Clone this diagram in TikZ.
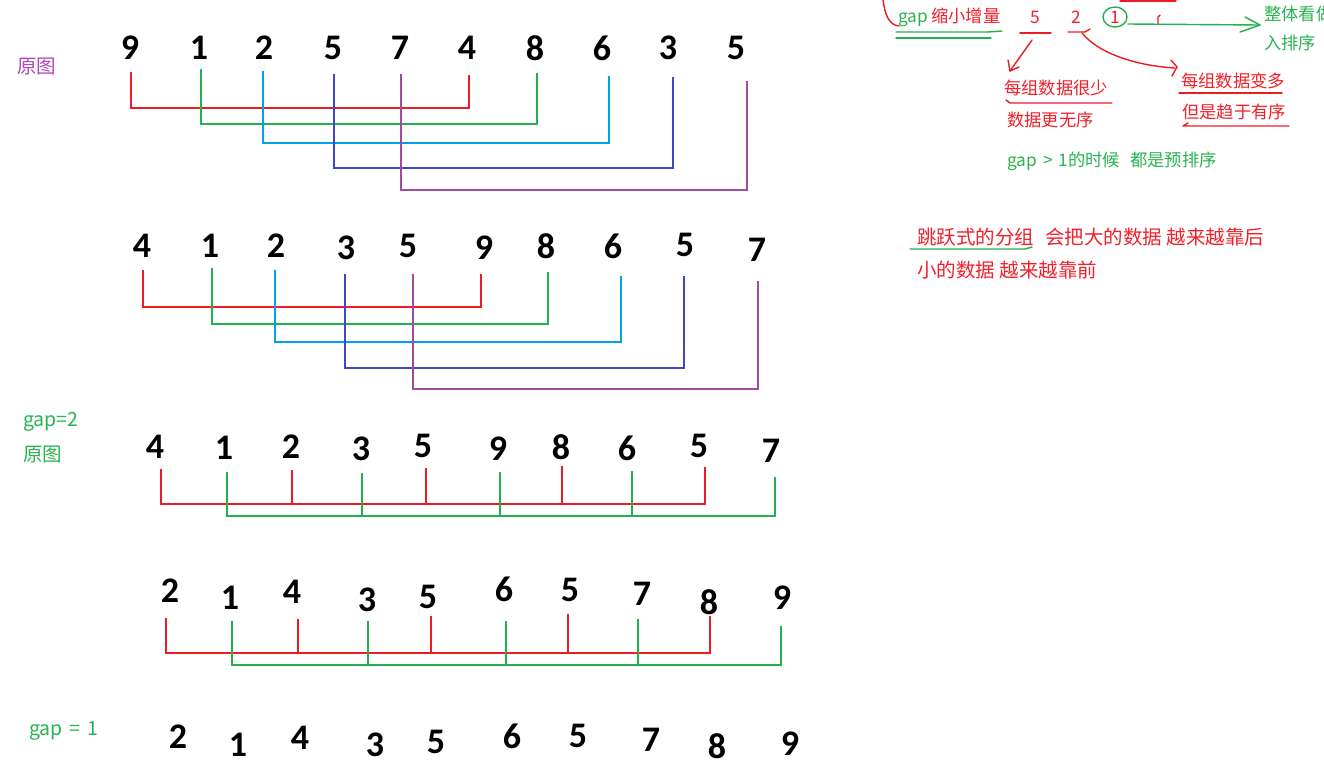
\documentclass[tikz,border=0pt]{standalone}
\usepackage{fontspec}
\newfontfamily\cjk{Noto Sans CJK SC}
\newfontfamily\dig{Carlito}
\definecolor{cred}{RGB}{237,28,36}
\definecolor{cgreen}{RGB}{34,177,76}
\definecolor{ccyan}{RGB}{0,162,232}
\definecolor{cblue}{RGB}{63,72,204}
\definecolor{cpurple}{RGB}{163,73,164}
\definecolor{tred}{RGB}{242,32,42}
\definecolor{tgreen}{RGB}{40,180,80}
\definecolor{tpurple}{RGB}{175,70,185}
\begin{document}
\begin{tikzpicture}[x=1pt,y=-1pt,
  num/.style={font=\dig\bfseries\fontsize{36}{36}\selectfont, inner sep=0pt},
  lbl/.style={font=\cjk\fontsize{19.5}{19.5}\selectfont, inner sep=0pt, anchor=west},
  note/.style={font=\cjk\fontsize{17.3}{17.3}\selectfont, inner sep=0pt, anchor=west, text=tred},
  bignote/.style={font=\cjk\fontsize{19.5}{19.5}\selectfont, inner sep=0pt, anchor=west, text=tred},
  brk/.style={line width=2pt},
  pen/.style={line width=1.4pt, line cap=round, line join=round}]
\useasboundingbox (0,0) rectangle (1324,769);
\fill[white] (0,0) rectangle (1324,769);
\clip (0,0) rectangle (1324,769);

% ---------- digit rows ----------
\foreach \x/\d/\y [count=\i] in {130/9/48,199/1/48,264/2/48,333/5/48,400/7/48,467/4/48,535/8/48,602/6/48,668/3/48,736/5/48}
  \node[num] (ra\i) at (\x,\y) {\d};
\foreach \x/\d/\y [count=\i] in {142/4/246,210/1/246,276/2/246,346/3/248,408/5/246,484/9/248,546/8/246,613/6/246,685/5/245,757/7/250}
  \node[num] (rb\i) at (\x,\y) {\d};
\foreach \x/\d/\y [count=\i] in {155/4/447,224/1/448,291/2/447,361/3/449,423/5/446,498/9/449,561/8/447,627/6/448,699/5/446,771/7/451}
  \node[num] (rc\i) at (\x,\y) {\d};
\foreach \x/\d/\y [count=\i] in {170/2/591,230/1/598,292/4/592,367/3/600,428/5/597,504/6/589,570/5/590,642/7/594,709/8/602,782/9/598}
  \node[num] (rd\i) at (\x,\y) {\d};
\foreach \x/\d/\y [count=\i] in {178/2/737,238/1/745,300/4/738,375/3/745,436/5/742,512/6/736,578/5/736,651/7/740,717/8/746,790/9/744}
  \node[num] (re\i) at (\x,\y) {\d};

% ---------- brackets row 1 ----------
\draw[brk,cred]    (131,72) |- (469,108) -- (469,75);
\draw[brk,cgreen]  (201,69) |- (537,124) -- (537,73);
\draw[brk,ccyan]   (263,71) |- (609,143) -- (609,76);
\draw[brk,cblue]   (334,74) |- (673,168) -- (673,77);
\draw[brk,cpurple] (401,74) |- (747,190) -- (747,81);

% ---------- brackets row 2 ----------
\draw[brk,cred]    (143,270) |- (481,307) -- (481,274);
\draw[brk,cgreen]  (212,268) |- (548,324) -- (548,272);
\draw[brk,ccyan]   (275,270) |- (621,342) -- (621,276);
\draw[brk,cblue]   (345,274) |- (684,368) -- (684,276);
\draw[brk,cpurple] (413,274) |- (758,389) -- (758,281);

% ---------- combs row 3 ----------
\draw[brk,cred] (161,469) |- (705,504) -- (705,467);
\foreach \x/\t in {292/470,426/468,562/466} \draw[brk,cred] (\x,\t) -- (\x,504);
\draw[brk,cgreen] (227,472) |- (775,516) -- (775,477);
\foreach \x/\t in {362/473,500/472,632/471} \draw[brk,cgreen] (\x,\t) -- (\x,516);

% ---------- combs row 4 ----------
\draw[brk,cred] (166,618) |- (710,653) -- (710,616);
\foreach \x/\t in {298/619,431/616,568/614} \draw[brk,cred] (\x,\t) -- (\x,653);
\draw[brk,cgreen] (232,621) |- (781,665) -- (781,626);
\foreach \x/\t in {368/621,506/621,638/619} \draw[brk,cgreen] (\x,\t) -- (\x,665);

% ---------- left labels ----------
\node[lbl,text=tpurple] (l1) at (17,67) {原图};
\node[lbl,text=tgreen] (l2) at (23,422) {gap=2};
\node[lbl,text=tgreen] (l3) at (23,455) {原图};
\node[lbl,text=tgreen] (l4) at (29,731) {gap\hspace{7pt}=\hspace{7pt}1};

% ---------- top-right notes ----------
\draw[pen,cred] (883,0) .. controls (885,15) and (889,25) .. (899,26);
\node[note] (gapt) at (898,17) {\textcolor{tgreen}{gap}\hspace{3pt}缩小增量};
\draw[pen,cgreen] (896,32) -- (988,32) -- (1002,31);
\draw[pen,cgreen] (896,38) -- (991,38);
\node[note,anchor=center] (g5) at (1035,17) {5};
\node[note,anchor=center] (g2) at (1076,17) {2};
\node[note,anchor=center] (g1) at (1115,17) {1};
\draw[pen,cgreen] (g1) ellipse [x radius=12, y radius=10];
\draw[pen,cred] (1020,33) -- (1051,33);
\draw[pen,cred] (1068,32) -- (1085,32) -- (1090,29);
\draw[pen,cred] (1120,1) -- (1176,1);
\draw[pen,cred] (1158,24) -- (1158,17) -- (1160,15);
% green arrow
\coordinate (ga) at (1128,24);
\coordinate (gb) at (1260,25);
\draw[pen,cgreen] (ga) -- (gb);
\draw[pen,cgreen] (1245,17) -- (gb) -- (1240,32);
\node[note,text=tgreen] (w1) at (1264,14) {整体看做};
\node[note,text=tgreen] (w2) at (1264,43) {入排序};
% red arrow from 5
\coordinate (a5) at (1032,40);
\coordinate (b5) at (1010,71);
\draw[pen,cred] (a5) -- (b5);
\draw[pen,cred] (1008,60) -- (b5) -- (1019,67);
% red curve from 2
\coordinate (a2) at (1082,33);
\coordinate (b2) at (1175,68);
\draw[pen,cred] (a2) .. controls (1100,55) and (1140,66) .. (b2);
\draw[pen,cred] (1171,60) -- (1177,67) -- (1172,76);
\node[note] (n1) at (1004,88) {每组数据很少};
\draw[pen,cred] (1006,100) -- (1010,103) -- (1112,103);
\node[note] (n2) at (1007,120) {数据更无序};
\node[note] (n3) at (1181,81) {每组数据变多};
\draw[pen,cred] (1179,93) -- (1282,93);
\node[note] (n4) at (1182,112) {但是趋于有序};
\draw[pen,cred] (1188,123) -- (1183,126) -- (1289,126);
\node[note,text=tgreen] (n5) at (1007,161) {gap\hspace{6pt}>\hspace{6pt}1的时候\hspace{10pt}都是预排序};

% ---------- middle-right notes ----------
\node[bignote] (m1) at (917,237) {跳跃式的分组\hspace{11pt}会把大的数据 越来越靠后};
\draw[pen,cgreen] (910,249) -- (1025,249) -- (1032,247);
\node[bignote] (m2) at (917,270) {小的数据 越来越靠前};
\end{tikzpicture}
\end{document}
